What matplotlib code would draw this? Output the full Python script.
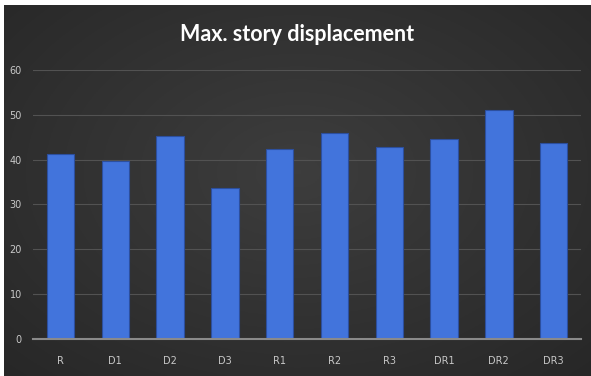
import numpy as np
import matplotlib
matplotlib.use("Agg")
import matplotlib.pyplot as plt

categories = ["R", "D1", "D2", "D3", "R1", "R2", "R3", "DR1", "DR2", "DR3"]
displacement = [41.3, 39.7, 45.3, 33.6, 42.3, 45.9, 42.8, 44.5, 51.1, 43.8]
y_ticks = [0, 10, 20, 30, 40, 50, 60]

W, H = 591, 376
fig = plt.figure(figsize=(W / 100, H / 100), dpi=100)
fig.patch.set_facecolor("white")

# dark panel with a soft radial gradient
bg = fig.add_axes([4 / W, 0, 1 - 4 / W, 1 - 5 / H])
bg.set_axis_off()
yy, xx = np.mgrid[0:1:200j, 0:1:300j]
r = np.sqrt(((xx - 0.5) / 0.75) ** 2 + ((yy - 0.55) / 0.8) ** 2)
shade = 0.24 - 0.09 * np.clip(r, 0, 1)
img = np.dstack([shade, shade, shade])
bg.imshow(img, extent=[0, 1, 0, 1], aspect="auto", origin="lower")
bg.set_xlim(0, 1)
bg.set_ylim(0, 1)

ax = fig.add_axes([33 / W, (H - 339) / H, 548 / W, 269 / H])
ax.set_facecolor("none")
x = np.arange(len(categories))
ax.bar(x, displacement, width=0.5, color="#4274dc", edgecolor="#2c4f9e",
       linewidth=0.8, zorder=3)
ax.set_xlim(-0.5, len(categories) - 0.5)
ax.set_ylim(0, 60)
ax.set_yticks(y_ticks)
ax.set_xticks(x)
ax.set_xticklabels(categories)
ax.grid(axis="y", color="#525252", linewidth=0.8, zorder=0)
for s in ["top", "right", "left"]:
    ax.spines[s].set_visible(False)
ax.spines["bottom"].set_color("#8a8a8a")
ax.spines["bottom"].set_linewidth(1.5)
ax.spines["bottom"].set_zorder(4)
ax.tick_params(axis="both", length=0, colors="#c8c8c8", labelsize=7)
ax.tick_params(axis="x", pad=12)
ax.tick_params(axis="y", pad=8)

fig.text(0.502, 0.907, "Max. story displacement", ha="center", va="center",
         color="white", fontsize=15.5, fontweight="bold", family="Lato")

fig.savefig("out.png", dpi=100, facecolor=fig.get_facecolor())
